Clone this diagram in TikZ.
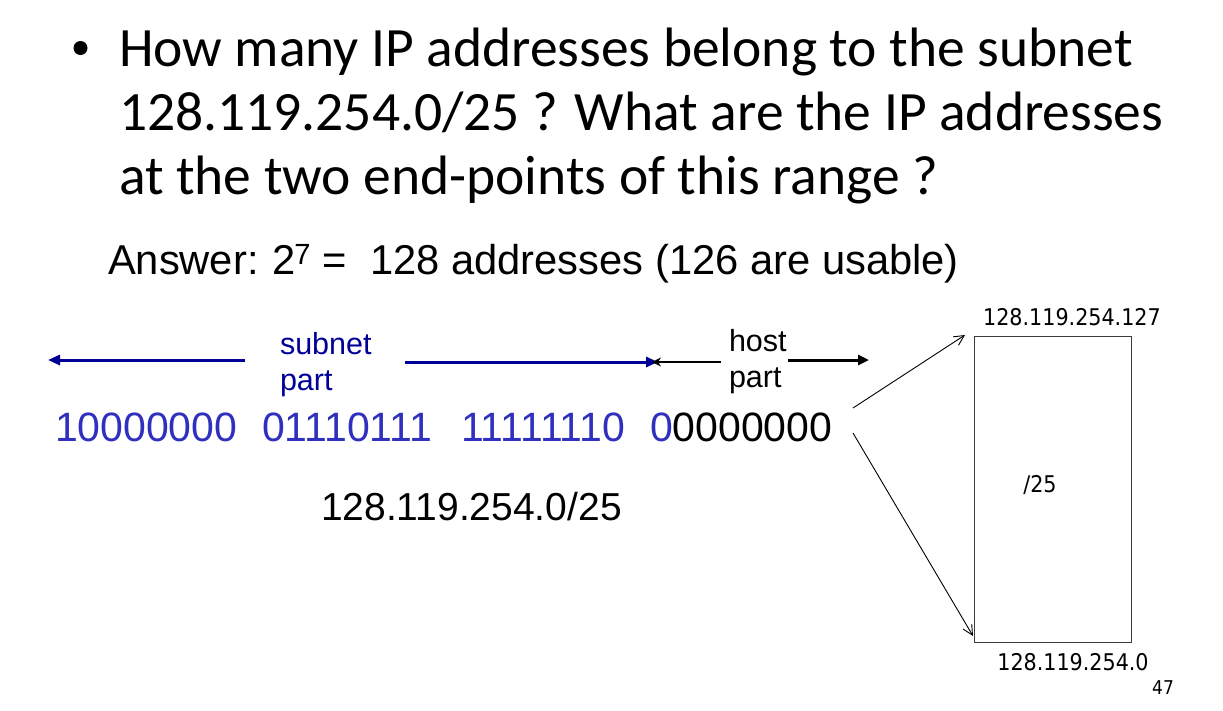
\documentclass[tikz,border=0pt]{standalone}
\usepackage{fontspec}
\setmainfont{Carlito}
\newfontfamily\arialf{Liberation Sans}
\newfontfamily\tahf{DejaVu Sans Condensed}
\usetikzlibrary{arrows.meta}
\definecolor{binblue}{RGB}{48,48,190}
\definecolor{navy}{RGB}{0,0,150}
\definecolor{boxgray}{RGB}{60,60,60}
\tikzset{
  txt/.style={inner sep=0pt, outer sep=0pt, anchor=base west},
  title/.style={txt, font=\fontsize{55.5}{64}\selectfont},
  bin/.style={txt, font=\arialf\fontsize{41}{48}\selectfont},
  lbl/.style={inner sep=0pt, outer sep=0pt, anchor=base west, align=left, font=\arialf\fontsize{30.5}{36}\selectfont},
  small/.style={inner sep=0pt, outer sep=0pt, anchor=base, font=\tahf\fontsize{23}{28}\selectfont},
  bluearrow/.style={navy, line width=3pt, -{Triangle[length=12pt,width=10pt]}},
  thinarrow/.style={black, line width=0.9pt, -{Straight Barb[length=10pt,width=10pt]}},
}
\begin{document}
\begin{tikzpicture}[x=1pt, y=-1pt]
\useasboundingbox (0,0) rectangle (1223,710);
% title
\fill (80.5,48) circle (7);
\node[title] (t1) at (119,66) {How many IP addresses belong to the subnet};
\node[title] (t2) at (119,130) {128.119.254.0/25 ? What are the IP addresses};
\node[title] (t3) at (119,194) {at the two end-points of this range ?};
% answer
\node[txt, font=\arialf\fontsize{41.7}{48}\selectfont] (ans) at (108,274) {Answer:\kern-2pt{} 2\kern-1pt\textsuperscript{7} = \ 128 addresses (126 are usable)};
% binary
\node[bin, binblue] (b1) at (55,441) {10000000};
\node[bin, binblue] (b2) at (262,441) {01110111};
\node[bin, binblue] (b3) at (461,441) {11111110};
\node[bin] (b4) at (650,441) {{\color{binblue}0}0000000};
\node[txt, font=\arialf\fontsize{39}{46}\selectfont] (net) at (321,520) {128.119.254.0/25};
% subnet / host labels
\node[lbl, navy] (sub) at (280,390) {subnet\\part};
\node[lbl] (host) at (729,387) {host\\part};
\coordinate (sl0) at (245,360);
\coordinate (sl1) at (48,360);
\coordinate (sr0) at (405,362);
\coordinate (sr1) at (658,362);
\coordinate (hl0) at (721,362);
\coordinate (hl1) at (652,362);
\coordinate (hr0) at (788,360);
\coordinate (hr1) at (869,360);
\draw[bluearrow] (sl0) -- (sl1);
\draw[bluearrow] (sr0) -- (sr1);
\draw[black, line width=1.4pt, -{Stealth[length=9pt,width=9pt]}] (hl0) -- (hl1);
\draw[black, line width=3pt, -{Triangle[length=11pt,width=10pt]}] (hr0) -- (hr1);
% box
\node[draw=boxgray, line width=1.3pt, minimum width=157pt, minimum height=306pt, inner sep=0pt, anchor=north west] (box) at (974,336) {};
\node[small] (m25) at (1040,492) {/25};
\node[small] (top) at (1072,325) {128.119.254.127};
\node[small] (bot) at (1073,670) {128.119.254.0};
\node[inner sep=0pt, anchor=base west, font=\tahf\fontsize{19}{22}\selectfont] (pg) at (1152,694) {47};
\coordinate (a0) at (853,408);
\coordinate (a1) at (965,335);
\coordinate (c0) at (853,433);
\coordinate (c1) at (973,636);
\draw[thinarrow] (a0) -- (a1);
\draw[thinarrow] (c0) -- (c1);
\end{tikzpicture}
\end{document}
